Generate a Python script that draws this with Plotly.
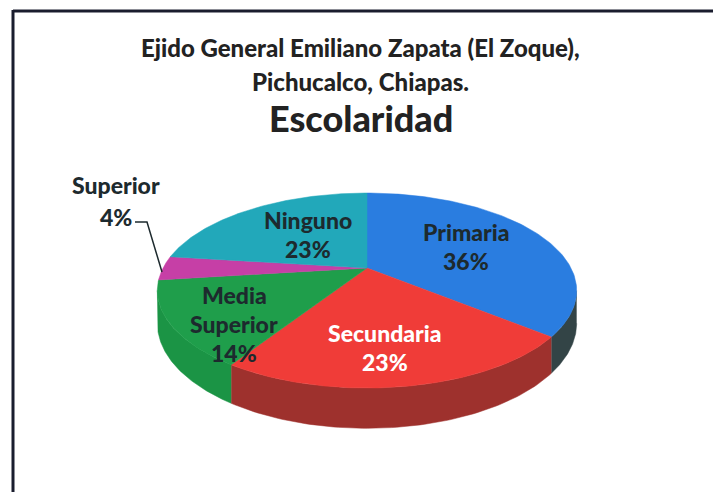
import numpy as np
import plotly.graph_objects as go

# ---------------- data ----------------
categories = ["Primaria", "Secundaria", "Media Superior", "Superior", "Ninguno"]
percent = [36, 23, 14, 4, 23]
title_lines = ["Ejido General Emiliano Zapata (El Zoque),", "Pichucalco, Chiapas."]
chart_title = "Escolaridad"

# ---------------- style ----------------
top_colors = ["#2a7de0", "#f03c38", "#1f9e4b", "#c63fa6", "#22a8ba"]
side_colors = ["#334446", "#9e312d", "#1b9445", "#9a2f82", "#1a8593"]
label_colors = ["#1d2a2e", "#ffffff", "#1d2a2e", "#1d2a2e", "#1d2a2e"]
FONT = "Lato"

W, H = 713, 492
CX, CY = 367.0, 268.0      # apex of the pie on screen
RX, RY = 204.0, 92.3       # radii of the disc
D = 4.33                   # perspective distance
T = 31.0                   # thickness of the pie


def proj(theta, drop=0.0):
    X = np.sin(theta)
    Z = np.cos(theta)
    f = D / (D + Z)
    return CX + RX * X * f, CY - RY * Z * f + drop * f


fig = go.Figure()

total = float(sum(percent))
bounds = np.concatenate([[0.0], np.cumsum(percent) / total * 2 * np.pi])
vis_a = np.arccos(-1.0 / D)
vis_b = 2 * np.pi - vis_a

# side walls (front half only)
for i, cat in enumerate(categories):
    a, b = max(bounds[i], vis_a), min(bounds[i + 1], vis_b)
    if b <= a:
        continue
    th = np.linspace(a, b, 80)
    xt, yt = proj(th)
    xb, yb = proj(th[::-1], T)
    fig.add_trace(go.Scatter(
        x=np.concatenate([xt, xb]), y=np.concatenate([yt, yb]),
        fill="toself", fillcolor=side_colors[i], mode="lines",
        line=dict(color=side_colors[i], width=0.5),
        hoverinfo="skip", showlegend=False))

# top faces
for i, cat in enumerate(categories):
    th = np.linspace(bounds[i], bounds[i + 1], 120)
    xr, yr = proj(th)
    fig.add_trace(go.Scatter(
        x=np.concatenate([[CX], xr, [CX]]), y=np.concatenate([[CY], yr, [CY]]),
        fill="toself", fillcolor=top_colors[i], mode="lines",
        line=dict(color=top_colors[i], width=0.5),
        name=cat, text=f"{cat}: {percent[i]}%", hoverinfo="text",
        showlegend=False))

annotations = []
# titles
annotations.append(dict(x=W / 2 + 4, y=47, text=title_lines[0], showarrow=False,
                        font=dict(family=FONT, size=24, color="#222222", weight=900)))
annotations.append(dict(x=W / 2 + 4, y=81, text=title_lines[1], showarrow=False,
                        font=dict(family=FONT, size=24, color="#222222", weight=900)))
annotations.append(dict(x=W / 2 + 4, y=118, text=chart_title, showarrow=False,
                        font=dict(family=FONT, size=36, color="#222222", weight=900)))

# slice labels (first-line centre positions)
label_pos = [(466, 232), (385, 333), (234, 295), (116, 185), (308, 220)]
LS = 29
for i, cat in enumerate(categories):
    lines = cat.split(" ") + [f"{percent[i]}%"]
    lx, ly = label_pos[i]
    for k, ln in enumerate(lines):
        annotations.append(dict(x=lx, y=ly + k * LS + (3 if (i == 3 and k == 1) else 0),
                                text=ln, showarrow=False,
                                font=dict(family=FONT, size=23, color=label_colors[i], weight=900)))

# leader line for the small slice
mid = (bounds[3] + bounds[4]) / 2
ex, ey = proj(mid)
shapes = [
    dict(type="path", xref="x", yref="y",
         path=f"M 135,222 L 147,222 L {ex - 1:.1f},{ey + 4:.1f}",
         line=dict(color="#1d2a2e", width=1.5)),
    # frame
    dict(type="line", xref="x", yref="y", x0=13, y0=11, x1=W + 5, y1=11,
         line=dict(color="#1a1d2e", width=3)),
    dict(type="line", xref="x", yref="y", x0=13, y0=10, x1=13, y1=H + 5,
         line=dict(color="#1a1d2e", width=3)),
]

fig.update_layout(
    width=W, height=H,
    margin=dict(l=0, r=0, t=0, b=0),
    paper_bgcolor="white", plot_bgcolor="white",
    xaxis=dict(range=[0, W], visible=False, fixedrange=True),
    yaxis=dict(range=[H, 0], visible=False, fixedrange=True),
    annotations=annotations, shapes=shapes,
    showlegend=False,
)

fig.write_html("out.html", config={"displayModeBar": False},
               post_script="document.body.style.margin='0';document.body.style.overflow='hidden';")
